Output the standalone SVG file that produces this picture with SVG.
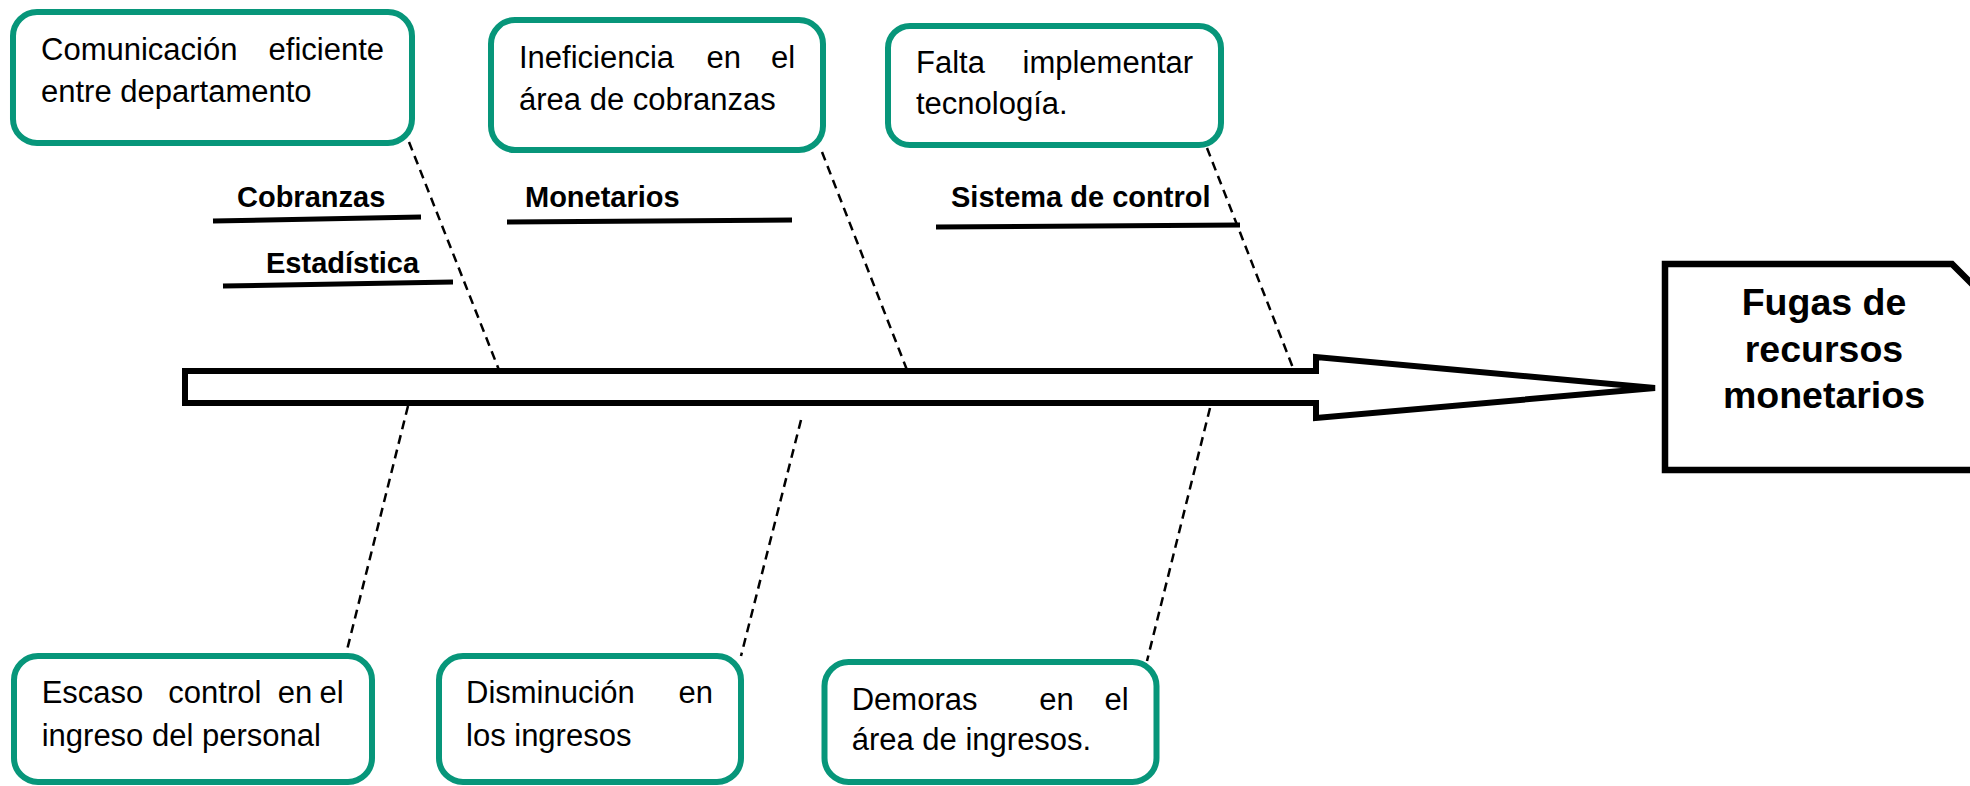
<svg xmlns="http://www.w3.org/2000/svg" width="1970" height="786" viewBox="0 0 1970 786">
<style>
.box{fill:#fff;stroke:#07967a;stroke-width:6}
.t{font-family:"Liberation Sans",Arial,sans-serif;font-size:31px;fill:#000}
.lb{font-family:"Liberation Sans",Arial,sans-serif;font-size:29px;font-weight:bold;fill:#000}
.ef{font-family:"Liberation Sans",Arial,sans-serif;font-size:37.5px;font-weight:bold;fill:#000;text-anchor:middle}
.ul{stroke:#000;stroke-width:5;fill:none}
.dash{stroke:#000;stroke-width:2.5;stroke-dasharray:9 6;fill:none}
</style>
<rect width="1970" height="786" fill="#fff"/>
<g id="connectors">
<line class="dash" x1="409" y1="142" x2="499" y2="370"/>
<line class="dash" x1="822" y1="152" x2="907" y2="370"/>
<line class="dash" x1="1207" y1="148" x2="1295" y2="373"/>
<line class="dash" x1="408" y1="406" x2="346" y2="654"/>
<line class="dash" x1="801" y1="420" x2="741" y2="656"/>
<line class="dash" x1="1210" y1="408" x2="1147" y2="661"/>
</g>
<g id="spine">
<polygon points="185,371 1316,371 1316,357 1655,388 1316,418 1316,403 185,403" fill="#fff" stroke="#000" stroke-width="6" stroke-linejoin="miter"/>
</g>
<g id="cat-cobranzas">
<line class="ul" x1="213" y1="221" x2="421" y2="217"/>
<text class="lb" x="237" y="207">Cobranzas</text>
</g>
<g id="cat-estadistica">
<line class="ul" x1="223" y1="286" x2="453" y2="282"/>
<text class="lb" x="266" y="273">Estadística</text>
</g>
<g id="cat-monetarios">
<line class="ul" x1="507" y1="222" x2="792" y2="220"/>
<text class="lb" x="525" y="207">Monetarios</text>
</g>
<g id="cat-sistema">
<line class="ul" x1="936" y1="227" x2="1240" y2="225"/>
<text class="lb" x="951" y="207">Sistema de control</text>
</g>
<g id="box-comunicacion">
<rect class="box" x="13" y="12" width="399" height="131" rx="24"/>
<text class="t" y="60"><tspan x="41">Comunicación</tspan><tspan x="268.6">eficiente</tspan></text>
<text class="t" x="41" y="101.7">entre departamento</text>
</g>
<g id="box-ineficiencia">
<rect class="box" x="491" y="20" width="332" height="130" rx="24"/>
<text class="t" y="68"><tspan x="519">Ineficiencia</tspan><tspan x="706.5">en</tspan><tspan x="771">el</tspan></text>
<text class="t" x="519" y="110">área de cobranzas</text>
</g>
<g id="box-tecnologia">
<rect class="box" x="888" y="26" width="333" height="119" rx="22"/>
<text class="t" y="72.7"><tspan x="916">Falta</tspan><tspan x="1022.5">implementar</tspan></text>
<text class="t" x="916" y="114">tecnología.</text>
</g>
<g id="box-escaso">
<rect class="box" x="14" y="656" width="358" height="126" rx="24"/>
<text class="t" y="703.3"><tspan x="41.7">Escaso</tspan><tspan x="168.3">control</tspan><tspan x="277.7">en</tspan><tspan x="319.5">el</tspan></text>
<text class="t" x="41.7" y="746">ingreso del personal</text>
</g>
<g id="box-disminucion">
<rect class="box" x="439" y="656" width="302" height="126" rx="24"/>
<text class="t" y="703.3"><tspan x="466">Disminución</tspan><tspan x="678.5">en</tspan></text>
<text class="t" x="466" y="746">los ingresos</text>
</g>
<g id="box-demoras">
<rect class="box" x="824.5" y="662" width="332" height="120" rx="24"/>
<text class="t" y="710"><tspan x="851.7">Demoras</tspan><tspan x="1039.3">en</tspan><tspan x="1104.5">el</tspan></text>
<text class="t" x="851.7" y="750">área de ingresos.</text>
</g>
<g id="effect">
<polygon points="1665,264 1952,264 2010,322 2010,470 1665,470" fill="#fff" stroke="#000" stroke-width="6.5"/>
<text class="ef" x="1824" y="315">Fugas de</text>
<text class="ef" x="1824" y="361.7">recursos</text>
<text class="ef" x="1824" y="408.3">monetarios</text>
</g>
</svg>
